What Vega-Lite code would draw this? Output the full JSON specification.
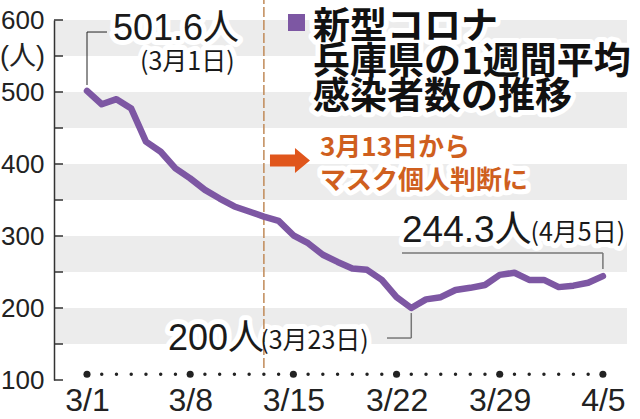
{
  "$schema": "https://vega.github.io/schema/vega-lite/v6.json",
  "width": 573,
  "height": 360,
  "autosize": "none",
  "padding": {"left": 54, "top": 20, "right": 13, "bottom": 39},
  "background": "white",
  "config": {"view": {"stroke": null}, "font": "Liberation Sans"},
  "data": {
    "values": [
      {"date": "2023-03-01", "value": 501.6},
      {"date": "2023-03-02", "value": 483},
      {"date": "2023-03-03", "value": 490},
      {"date": "2023-03-04", "value": 477},
      {"date": "2023-03-05", "value": 431},
      {"date": "2023-03-06", "value": 417},
      {"date": "2023-03-07", "value": 394},
      {"date": "2023-03-08", "value": 380},
      {"date": "2023-03-09", "value": 364},
      {"date": "2023-03-10", "value": 352},
      {"date": "2023-03-11", "value": 341},
      {"date": "2023-03-12", "value": 334},
      {"date": "2023-03-13", "value": 327},
      {"date": "2023-03-14", "value": 321},
      {"date": "2023-03-15", "value": 301},
      {"date": "2023-03-16", "value": 290},
      {"date": "2023-03-17", "value": 274},
      {"date": "2023-03-18", "value": 264},
      {"date": "2023-03-19", "value": 255},
      {"date": "2023-03-20", "value": 253},
      {"date": "2023-03-21", "value": 239},
      {"date": "2023-03-22", "value": 215},
      {"date": "2023-03-23", "value": 200},
      {"date": "2023-03-24", "value": 212},
      {"date": "2023-03-25", "value": 215},
      {"date": "2023-03-26", "value": 225},
      {"date": "2023-03-27", "value": 228},
      {"date": "2023-03-28", "value": 232},
      {"date": "2023-03-29", "value": 246},
      {"date": "2023-03-30", "value": 249},
      {"date": "2023-03-31", "value": 239},
      {"date": "2023-04-01", "value": 239},
      {"date": "2023-04-02", "value": 229},
      {"date": "2023-04-03", "value": 231},
      {"date": "2023-04-04", "value": 235},
      {"date": "2023-04-05", "value": 244.3}
    ],
    "format": {"parse": {"date": "date"}}
  },
  "layer": [
    {
      "data": {"values": [{"lo": 550, "hi": 600}, {"lo": 450, "hi": 500}, {"lo": 350, "hi": 400}, {"lo": 250, "hi": 300}, {"lo": 150, "hi": 200}]},
      "mark": {"type": "rect", "color": "#ececec"},
      "encoding": {
        "y": {"field": "lo", "type": "quantitative"},
        "y2": {"field": "hi"}
      }
    },
    {
      "data": {"values": [{"t": "501.6人"}]},
      "mark": {"type": "text", "align": "left", "baseline": "alphabetic", "fontSize": 36, "font": "Liberation Sans, Noto Sans CJK JP", "fill": "white", "stroke": "white", "strokeWidth": 10, "strokeJoin": "round"},
      "encoding": {"x": {"datum": {"year": 2023, "month": 3, "date": 2, "hours": 18, "minutes": 20, "utc": true}}, "y": {"datum": 572.2}, "text": {"field": "t"}}
    },
    {
      "data": {"values": [{"t": "(3月1日)"}]},
      "mark": {"type": "text", "align": "left", "baseline": "middle", "fontSize": 25, "font": "Noto Sans CJK JP", "fill": "white", "stroke": "white", "strokeWidth": 10, "strokeJoin": "round"},
      "encoding": {"x": {"datum": {"year": 2023, "month": 3, "date": 4, "hours": 14, "minutes": 18, "utc": true}}, "y": {"datum": 541.7}, "text": {"field": "t"}}
    },
    {
      "data": {"values": [{"t": "新型コロナ\n兵庫県の1週間平均\n感染者数の推移"}]},
      "mark": {"type": "text", "align": "left", "baseline": "top", "lineBreak": "\n", "lineHeight": 35, "fontSize": 37, "fontWeight": "bold", "font": "Noto Sans CJK JP", "fill": "white", "stroke": "white", "strokeWidth": 10, "strokeJoin": "round"},
      "encoding": {"x": {"datum": {"year": 2023, "month": 3, "date": 16, "hours": 7, "minutes": 58, "utc": true}}, "y": {"datum": 614}, "text": {"field": "t"}}
    },
    {
      "data": {"values": [{"t": "3月13日から\nマスク個人判断に"}]},
      "mark": {"type": "text", "align": "left", "baseline": "top", "lineBreak": "\n", "lineHeight": 33, "fontSize": 26, "fontWeight": "bold", "font": "Noto Sans CJK JP", "fill": "white", "stroke": "white", "strokeWidth": 10, "strokeJoin": "round"},
      "encoding": {"x": {"datum": {"year": 2023, "month": 3, "date": 16, "hours": 19, "minutes": 22, "utc": true}}, "y": {"datum": 440.3}, "text": {"field": "t"}}
    },
    {
      "data": {"values": [{"t": "244.3人"}]},
      "mark": {"type": "text", "align": "left", "baseline": "alphabetic", "fontSize": 37, "font": "Liberation Sans, Noto Sans CJK JP", "fill": "white", "stroke": "white", "strokeWidth": 10, "strokeJoin": "round"},
      "encoding": {"x": {"datum": {"year": 2023, "month": 3, "date": 22, "hours": 8, "minutes": 53, "utc": true}}, "y": {"datum": 291.7}, "text": {"field": "t"}}
    },
    {
      "data": {"values": [{"t": "(4月5日)"}]},
      "mark": {"type": "text", "align": "left", "baseline": "alphabetic", "fontSize": 25, "font": "Noto Sans CJK JP", "fill": "white", "stroke": "white", "strokeWidth": 10, "strokeJoin": "round"},
      "encoding": {"x": {"datum": {"year": 2023, "month": 3, "date": 31, "hours": 2, "minutes": 0, "utc": true}}, "y": {"datum": 293}, "text": {"field": "t"}}
    },
    {
      "data": {"values": [{"t": "200人"}]},
      "mark": {"type": "text", "align": "left", "baseline": "alphabetic", "fontSize": 36, "font": "Liberation Sans, Noto Sans CJK JP", "fill": "white", "stroke": "white", "strokeWidth": 10, "strokeJoin": "round"},
      "encoding": {"x": {"datum": {"year": 2023, "month": 3, "date": 6, "hours": 11, "minutes": 53, "utc": true}}, "y": {"datum": 141.7}, "text": {"field": "t"}}
    },
    {
      "data": {"values": [{"t": "(3月23日)"}]},
      "mark": {"type": "text", "align": "left", "baseline": "alphabetic", "fontSize": 25, "font": "Noto Sans CJK JP", "fill": "white", "stroke": "white", "strokeWidth": 10, "strokeJoin": "round"},
      "encoding": {"x": {"datum": {"year": 2023, "month": 3, "date": 12, "hours": 18, "minutes": 0, "utc": true}}, "y": {"datum": 143}, "text": {"field": "t"}}
    },
    {
      "data": {"values": [{"v": 100}, {"v": 150}, {"v": 200}, {"v": 250}, {"v": 300}, {"v": 350}, {"v": 400}, {"v": 450}, {"v": 500}, {"v": 550}, {"v": 600}]},
      "mark": {"type": "rule", "color": "#333333", "strokeWidth": 1.5},
      "encoding": {
        "x": {"datum": {"year": 2023, "month": 2, "date": 26, "hours": 18, "minutes": 16, "utc": true}},
        "x2": {"datum": {"year": 2023, "month": 2, "date": 27, "hours": 8, "minutes": 56, "utc": true}},
        "y": {"field": "v", "type": "quantitative"}
      }
    },
    {
      "data": {"values": [{"t": "3/13"}]},
      "mark": {"type": "rule", "color": "#c08a58", "strokeWidth": 1.5, "strokeDash": [10, 3]},
      "encoding": {"x": {"datum": {"year": 2023, "month": 3, "date": 13, "utc": true}}, "y": {"datum": 116.7}, "y2": {"datum": 627.8}}
    },
    {
      "data": {"values": [{"t": "a"}]},
      "mark": {"type": "rule", "color": "#222222", "strokeWidth": 1},
      "encoding": {"x": {"datum": {"year": 2023, "month": 3, "date": 1, "utc": true}}, "y": {"datum": 509.7}, "y2": {"datum": 583.3}}
    },
    {
      "data": {"values": [{"t": "a"}]},
      "mark": {"type": "rule", "color": "#222222", "strokeWidth": 1},
      "encoding": {"x": {"datum": {"year": 2023, "month": 3, "date": 1, "utc": true}}, "x2": {"datum": {"year": 2023, "month": 3, "date": 2, "hours": 8, "minutes": 34, "utc": true}}, "y": {"datum": 583.3}}
    },
    {
      "data": {"values": [{"t": "b"}]},
      "mark": {"type": "rule", "color": "#777777", "strokeWidth": 1.5},
      "encoding": {"x": {"datum": {"year": 2023, "month": 3, "date": 22, "hours": 8, "minutes": 53, "utc": true}}, "x2": {"datum": {"year": 2023, "month": 4, "date": 5, "utc": true}}, "y": {"datum": 276.4}}
    },
    {
      "data": {"values": [{"t": "b"}]},
      "mark": {"type": "rule", "color": "#777777", "strokeWidth": 1.5},
      "encoding": {"x": {"datum": {"year": 2023, "month": 4, "date": 5, "utc": true}}, "y": {"datum": 276.4}, "y2": {"datum": 254}}
    },
    {
      "data": {"values": [{"t": "c"}]},
      "mark": {"type": "rule", "color": "#777777", "strokeWidth": 1.5},
      "encoding": {"x": {"datum": {"year": 2023, "month": 3, "date": 23, "utc": true}}, "y": {"datum": 193}, "y2": {"datum": 158.3}}
    },
    {
      "data": {"values": [{"t": "c"}]},
      "mark": {"type": "rule", "color": "#777777", "strokeWidth": 1.5},
      "encoding": {"x": {"datum": {"year": 2023, "month": 3, "date": 21, "hours": 8, "minutes": 24, "utc": true}}, "x2": {"datum": {"year": 2023, "month": 3, "date": 23, "utc": true}}, "y": {"datum": 158.3}}
    },
    {
      "mark": {"type": "line", "color": "#7d57a3", "strokeWidth": 6.5, "strokeJoin": "round", "strokeCap": "round"},
      "encoding": {
        "x": {
          "field": "date", "type": "temporal",
          "scale": {"type": "utc", "domain": [{"year": 2023, "month": 2, "date": 26, "hours": 18, "minutes": 16, "utc": true}, {"year": 2023, "month": 4, "date": 6, "hours": 15, "minutes": 14, "utc": true}]},
          "axis": {
            "title": null,
            "values": [
              {"year": 2023, "month": 3, "date": 1, "utc": true},
              {"year": 2023, "month": 3, "date": 8, "utc": true},
              {"year": 2023, "month": 3, "date": 15, "utc": true},
              {"year": 2023, "month": 3, "date": 22, "utc": true},
              {"year": 2023, "month": 3, "date": 29, "utc": true},
              {"year": 2023, "month": 4, "date": 5, "utc": true}
            ],
            "labelExpr": "utcFormat(datum.value, '%-m/%-d')",
            "domain": false, "ticks": false, "grid": false,
            "labelFont": "Liberation Sans", "labelFontSize": 32, "labelColor": "#222222",
            "labelPadding": 5, "labelFlush": false, "labelOverlap": false, "labelBound": false
          }
        },
        "y": {
          "field": "value", "type": "quantitative",
          "scale": {"domain": [100, 600], "nice": false, "zero": false},
          "axis": {
            "title": null,
            "zindex": 1,
            "values": [100, 200, 300, 400, 500, 600],
            "grid": false, "domain": true, "domainColor": "#333333", "domainWidth": 1.5,
            "ticks": false,
            "labelPadding": 10, "labelFont": "Liberation Sans", "labelFontSize": 26, "labelColor": "#222222",
            "labelOverlap": false, "labelBound": false, "labelFlush": false
          }
        }
      }
    },
    {
      "mark": {"type": "point", "filled": true, "shape": "circle", "color": "#222222", "size": 12, "opacity": 1},
      "encoding": {"x": {"field": "date", "type": "temporal"}, "y": {"datum": 108}}
    },
    {
      "transform": [{"filter": "utcday(datum.date) === 3"}],
      "mark": {"type": "point", "filled": true, "shape": "circle", "color": "#222222", "size": 50, "opacity": 1},
      "encoding": {"x": {"field": "date", "type": "temporal"}, "y": {"datum": 108}}
    },
    {
      "data": {"values": [{"t": "(人)"}]},
      "mark": {"type": "text", "align": "right", "baseline": "middle", "fontSize": 27, "font": "Liberation Sans, Noto Sans CJK JP", "color": "#222222"},
      "encoding": {"x": {"datum": {"year": 2023, "month": 2, "date": 26, "hours": 3, "minutes": 36, "utc": true}}, "y": {"datum": 549}, "text": {"field": "t"}}
    },
    {
      "data": {"values": [{"t": "501.6人"}]},
      "mark": {"type": "text", "align": "left", "baseline": "alphabetic", "fontSize": 36, "font": "Liberation Sans, Noto Sans CJK JP", "color": "#1a1a1a"},
      "encoding": {"x": {"datum": {"year": 2023, "month": 3, "date": 2, "hours": 18, "minutes": 20, "utc": true}}, "y": {"datum": 572.2}, "text": {"field": "t"}}
    },
    {
      "data": {"values": [{"t": "(3月1日)"}]},
      "mark": {"type": "text", "align": "left", "baseline": "middle", "fontSize": 25, "font": "Noto Sans CJK JP", "color": "#1a1a1a"},
      "encoding": {"x": {"datum": {"year": 2023, "month": 3, "date": 4, "hours": 14, "minutes": 18, "utc": true}}, "y": {"datum": 541.7}, "text": {"field": "t"}}
    },
    {
      "data": {"values": [{"t": "新型コロナ\n兵庫県の1週間平均\n感染者数の推移"}]},
      "mark": {"type": "text", "align": "left", "baseline": "top", "lineBreak": "\n", "lineHeight": 35, "fontSize": 37, "fontWeight": "bold", "font": "Noto Sans CJK JP", "color": "#111111"},
      "encoding": {"x": {"datum": {"year": 2023, "month": 3, "date": 16, "hours": 7, "minutes": 58, "utc": true}}, "y": {"datum": 614}, "text": {"field": "t"}}
    },
    {
      "data": {"values": [{"t": "新型コロナ"}]},
      "mark": {"type": "point", "shape": "square", "filled": true, "color": "#7d57a3", "size": 289, "opacity": 1},
      "encoding": {"x": {"datum": {"year": 2023, "month": 3, "date": 15, "hours": 5, "minutes": 7, "utc": true}}, "y": {"datum": 596.5}}
    },
    {
      "data": {"values": [{"t": "3月13日から\nマスク個人判断に"}]},
      "mark": {"type": "text", "align": "left", "baseline": "top", "lineBreak": "\n", "lineHeight": 33, "fontSize": 26, "fontWeight": "bold", "font": "Noto Sans CJK JP", "color": "#cf5f1e"},
      "encoding": {"x": {"datum": {"year": 2023, "month": 3, "date": 16, "hours": 19, "minutes": 22, "utc": true}}, "y": {"datum": 440.3}, "text": {"field": "t"}}
    },
    {
      "data": {"values": [{"t": "arrow"}]},
      "mark": {"type": "point", "shape": "M-1,-0.3 L0.25,-0.3 L0.25,-0.625 L1,0 L0.25,0.625 L0.25,0.3 L-1,0.3 Z", "filled": true, "color": "#e0561c", "size": 1600, "opacity": 1, "strokeWidth": 0},
      "encoding": {"x": {"datum": {"year": 2023, "month": 3, "date": 14, "hours": 18, "minutes": 29, "utc": true}}, "y": {"datum": 404.9}}
    },
    {
      "data": {"values": [{"t": "244.3人"}]},
      "mark": {"type": "text", "align": "left", "baseline": "alphabetic", "fontSize": 37, "font": "Liberation Sans, Noto Sans CJK JP", "color": "#1a1a1a"},
      "encoding": {"x": {"datum": {"year": 2023, "month": 3, "date": 22, "hours": 8, "minutes": 53, "utc": true}}, "y": {"datum": 291.7}, "text": {"field": "t"}}
    },
    {
      "data": {"values": [{"t": "(4月5日)"}]},
      "mark": {"type": "text", "align": "left", "baseline": "alphabetic", "fontSize": 25, "font": "Noto Sans CJK JP", "color": "#1a1a1a"},
      "encoding": {"x": {"datum": {"year": 2023, "month": 3, "date": 31, "hours": 2, "minutes": 0, "utc": true}}, "y": {"datum": 293}, "text": {"field": "t"}}
    },
    {
      "data": {"values": [{"t": "200人"}]},
      "mark": {"type": "text", "align": "left", "baseline": "alphabetic", "fontSize": 36, "font": "Liberation Sans, Noto Sans CJK JP", "color": "#1a1a1a"},
      "encoding": {"x": {"datum": {"year": 2023, "month": 3, "date": 6, "hours": 11, "minutes": 53, "utc": true}}, "y": {"datum": 141.7}, "text": {"field": "t"}}
    },
    {
      "data": {"values": [{"t": "(3月23日)"}]},
      "mark": {"type": "text", "align": "left", "baseline": "alphabetic", "fontSize": 25, "font": "Noto Sans CJK JP", "color": "#1a1a1a"},
      "encoding": {"x": {"datum": {"year": 2023, "month": 3, "date": 12, "hours": 18, "minutes": 0, "utc": true}}, "y": {"datum": 143}, "text": {"field": "t"}}
    }
  ]
}
